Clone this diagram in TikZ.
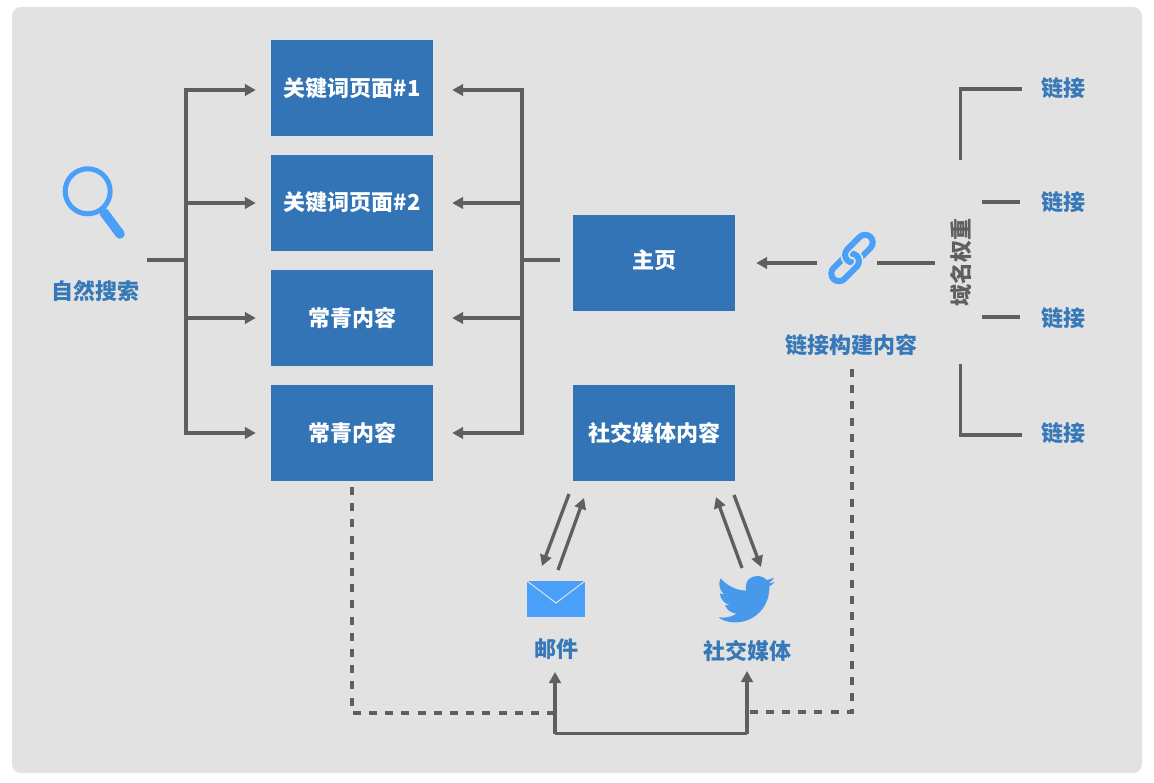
\documentclass[tikz,border=0pt]{standalone}
\usepackage{fontspec}
\setmainfont{Noto Sans CJK SC}
\usetikzlibrary{arrows.meta,calc}
\definecolor{panel}{HTML}{E2E2E2}
\definecolor{boxblue}{HTML}{3274B5}
\definecolor{textblue}{HTML}{3678B8}
\definecolor{iconblue}{HTML}{4AA0F8}
\definecolor{birdblue}{HTML}{4899EA}
\definecolor{wire}{HTML}{5F5F5F}
\tikzset{
  pagebox/.style={fill=boxblue,minimum width=162pt,minimum height=96pt,inner sep=0pt},
  boxtext/.style={text=white,inner sep=0pt,font=\fontsize{22}{24}\selectfont\bfseries},
  lbl/.style={text=textblue,inner sep=0pt,font=\fontsize{22}{24}\selectfont\bfseries},
  wireline/.style={draw=wire,line width=3.3pt},
  wirearrow/.style={wireline,-{Triangle[length=11pt,width=11.5pt]}},
  dashline/.style={draw=wire,line width=3.8pt,dash pattern=on 8pt off 8.2pt},
  linkring/.style={iconblue,line width=6pt,rounded corners=8pt},
  linkhalo/.style={panel,line width=9.5pt,rounded corners=8pt},
}
\begin{document}
\begin{tikzpicture}[x=1pt,y=-1pt]
\useasboundingbox (0,0) rectangle (1154,783);
\fill[white] (0,0) rectangle (1154,783);
\fill[panel,rounded corners=9pt] (12,7) rectangle (1142,773);

% boxes
\node[pagebox] (kw1) at (352,88) {};
\node[pagebox] (kw2) at (352,203) {};
\node[pagebox] (ev1) at (352,318) {};
\node[pagebox] (ev2) at (352,433) {};
\node[pagebox] (home) at (654,263) {};
\node[pagebox] (soc) at (654,433) {};
\node[boxtext] (kw1t) at (352,88.5) {关键词页面\#1};
\node[boxtext] (kw2t) at (352,202.5) {关键词页面\#2};
\node[boxtext] (ev1t) at (352,318) {常青内容};
\node[boxtext] (ev2t) at (352,433) {常青内容};
\node[boxtext] (homet) at (654,260) {主页};
\node[boxtext] (soct) at (654,433) {社交媒体内容};

% labels
\node[lbl] (organic) at (95,291.5) {自然搜索};
\node[lbl] (mail) at (556,649.5) {邮件};
\node[lbl] (social) at (747,651) {社交媒体};
\node[lbl] (build) at (851,345.5) {链接构建内容};
\node[lbl] (l1) at (1063,88.5) {链接};
\node[lbl] (l2) at (1063,202.5) {链接};
\node[lbl] (l3) at (1063,318) {链接};
\node[lbl] (l4) at (1063,433) {链接};
\node[lbl,text=wire,rotate=90] (da) at (961.5,263) {域名权重};

% magnifier
\draw[iconblue,line width=5pt] (87.7,191.3) circle (22.5);
\draw[iconblue,line width=9.5pt,line cap=round] (104,212.5) -- (120,234);

% link icon
\begin{scope}[shift={(852,258)},rotate=45]
  \draw[linkring] (-5,-9.5) rectangle (28,6);
  \draw[linkhalo] (-28,-6) rectangle (5,9.5);
  \draw[linkring] (-28,-6) rectangle (5,9.5);
  \begin{scope}
    \clip (-11,-13) rectangle (12,0);
    \draw[linkhalo] (-5,-9.5) rectangle (28,6);
    \draw[linkring] (-5,-9.5) rectangle (28,6);
  \end{scope}
\end{scope}

% envelope
\fill[iconblue] (527,581) rectangle (585,617);
\draw[panel,line width=1pt] (527,581) -- (556,603) -- (585,581);

% bird
\begin{scope}[shift={(510,480)},scale=0.3333]
\fill[birdblue] (625,412)
  .. controls (640,424) and (660,428) .. (680,427)
  .. controls (735,425) and (780,380) .. (778,319)
  .. controls (785,315) and (791,311) .. (795,305)
  .. controls (789,308) and (782,310) .. (776,310)
  .. controls (783,306) and (789,300) .. (792,292)
  .. controls (785,296) and (778,299) .. (770,300)
  .. controls (755,283) and (725,285) .. (712,303)
  .. controls (707,312) and (706,322) .. (708,332)
  .. controls (677,331) and (650,316) .. (632,295)
  .. controls (624,312) and (628,330) .. (642,343)
  .. controls (637,343) and (633,341) .. (630,340)
  .. controls (630,356) and (642,370) .. (658,375)
  .. controls (653,376) and (648,376) .. (645,375)
  .. controls (650,390) and (665,400) .. (680,401)
  .. controls (664,411) and (645,415) .. (625,412) -- cycle;
\end{scope}

% junction coordinates
\coordinate (ltop) at (186,90);
\coordinate (lbot) at (186,433);
\coordinate (lin) at (147,260);
\coordinate (lmid) at (186,260);
\coordinate (rtop) at (522,90);
\coordinate (rbot) at (522,433);
\coordinate (rmid) at (522,260);

% left tree
\draw[wireline] (lin) -- (lmid);
\draw[wirearrow] (lmid) -- (ltop) -- ($(kw1.west |- ltop)+(-15,0)$);
\draw[wirearrow] (lmid) -- (lbot) -- ($(ev2.west)+(-15,0)$);
\draw[wirearrow] (186,203) -- ($(kw2.west)+(-15,0)$);
\draw[wirearrow] (186,318) -- ($(ev1.west)+(-15,0)$);

% right tree
\draw[wireline] ($(home.west |- rmid)+(-13,0)$) -- (rmid);
\draw[wirearrow] (rmid) -- (rtop) -- ($(kw1.east |- rtop)+(19,0)$);
\draw[wirearrow] (rmid) -- (rbot) -- ($(ev2.east)+(19,0)$);
\draw[wirearrow] (522,203) -- ($(kw2.east)+(19,0)$);
\draw[wirearrow] (522,318) -- ($(ev1.east)+(19,0)$);

% link to home
\coordinate (linkL) at (817,263);
\coordinate (linkR) at (877,263);
\coordinate (daL) at (935,263);
\draw[wirearrow] (linkL) -- ($(home.east)+(21,0)$);
\draw[wireline] (linkR) -- (daL);

% right brackets
\draw[wireline] (960.5,160) -- (960.5,89) -- (1022,89);
\draw[wireline] (982,202) -- (1020,202);
\draw[wireline] (982,317) -- (1020,317);
\draw[wireline] (960.5,364) -- (960.5,435) -- (1022,435);

% social arrows
\draw[wirearrow] (569,494) -- (542,566);
\draw[wirearrow] (558,570) -- (584,498);
\draw[wirearrow] (742,568) -- (716,497);
\draw[wirearrow] (734,495) -- (761,567);

% bottom lines
\draw[dashline] (ev2.south |- 0,487) -- (352,713) -- (555,713);
\draw[dashline] (852,369) -- (852,712) -- (749,712);
\draw[wirearrow] (555,733.5) -- (555,672);
\draw[wirearrow] (747,733.5) -- (747,671);
\draw[wireline,line cap=square] (555,733.5) -- (747,733.5);
\end{tikzpicture}
\end{document}
